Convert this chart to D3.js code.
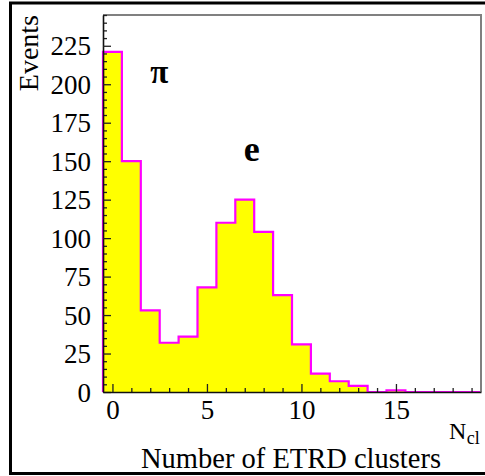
<!DOCTYPE html>
<html>
<head>
<meta charset="utf-8">
<script src="https://cdn.jsdelivr.net/npm/d3@7"></script>
<style>
html,body{margin:0;padding:0;background:#fff;}
svg{display:block;}
text{font-family:"Liberation Serif","Times New Roman",Times,serif;fill:#000;}
</style>
</head>
<body>
<svg id="c" width="485" height="476"></svg>
<script>
// Data
const binCenters = [0,1,2,3,4,5,6,7,8,9,10,11,12,13,14,15,16,17,18,19];
const counts = [221,150,53,32,36,68,110,125,104,63,31,12,7,4,0,1,0,0,0,0];
const xMajorTicks = [0,5,10,15];
const yMajorTicks = [0,25,50,75,100,125,150,175,200,225];
const xTitle = "Number of ETRD clusters";
const yTitle = "Events";
const peakLabels = [{text:"\u03c0", x:2.0, y:201, size:33}, {text:"e", x:6.95, y:150, size:36}];

const svg = d3.select("#c");
const L = 103, R = 481, T = 15, B = 392;
const serif = "'Liberation Serif','Times New Roman',Times,serif";

// outer frame
svg.append("rect").attr("x",10.5).attr("y",3).attr("width",480).attr("height",470.5)
  .attr("fill","#fff").attr("stroke","#000").attr("stroke-width",3);

const x = d3.scaleLinear().domain([-0.5,19.5]).range([L,R]);
const y = d3.scaleLinear().domain([0,245]).range([B,T]);

// histogram
const pts = [[-0.5,0]];
binCenters.forEach((c,i)=>{ pts.push([c-0.5,counts[i]]); });
pts.push([19.5,counts[counts.length-1]]);
const area = d3.area().x(d=>x(d[0])).y0(y(0)).y1(d=>y(d[1])).curve(d3.curveStepAfter);
const line = d3.line().x(d=>x(d[0])).y(d=>y(d[1])).curve(d3.curveStepAfter);
svg.append("path").datum(pts).attr("d",area).attr("fill","#ffff00");
svg.append("path").datum(pts).attr("d",line).attr("fill","none")
  .attr("stroke","#ff00ff").attr("stroke-width",2.2);

// frame top/right
svg.append("path").attr("d",`M${L},${T}H${R}V${B}`).attr("fill","none")
  .attr("stroke","#808080").attr("stroke-width",2);

// y axis minor
const yMinor = d3.range(0,246,5).filter(v=>v%25!==0);
svg.append("g").attr("transform",`translate(${L},0)`)
  .call(d3.axisLeft(y).tickValues(yMinor).tickSize(-4).tickFormat(""))
  .call(g=>g.select(".domain").remove())
  .call(g=>g.selectAll("line").attr("stroke","#222").attr("stroke-width",1.3));
// y axis major
svg.append("g").attr("transform",`translate(${L},0)`)
  .call(d3.axisLeft(y).tickValues(yMajorTicks).tickSize(-8).tickPadding(12).tickSizeOuter(0))
  .call(g=>g.attr("font-family",serif))
  .call(g=>g.select(".domain").attr("stroke","#111").attr("stroke-width",1.6))
  .call(g=>g.selectAll("line").attr("stroke","#222").attr("stroke-width",1.3))
  .call(g=>g.selectAll("text").attr("font-size",27).style("font-family",serif).attr("dy","0.34em"));

// x axis minor
const xMinor = d3.range(0,20,1).filter(v=>v%5!==0);
svg.append("g").attr("transform",`translate(0,${B})`)
  .call(d3.axisBottom(x).tickValues(xMinor).tickSize(-4).tickFormat(""))
  .call(g=>g.select(".domain").remove())
  .call(g=>g.selectAll("line").attr("stroke","#222").attr("stroke-width",1.3));
svg.append("g").attr("transform",`translate(0,${B})`)
  .call(d3.axisBottom(x).tickValues(xMajorTicks).tickSize(-8).tickPadding(8).tickSizeOuter(0))
  .call(g=>g.attr("font-family",serif))
  .call(g=>g.select(".domain").attr("stroke","#111").attr("stroke-width",1.6))
  .call(g=>g.selectAll("line").attr("stroke","#222").attr("stroke-width",1.3))
  .call(g=>g.selectAll("text").attr("font-size",27).style("font-family",serif).attr("dy","0.72em"));

// titles
svg.append("text").attr("transform",`translate(38,${T}) rotate(-90)`)
  .attr("text-anchor","end").attr("font-size",28).text(yTitle);
svg.append("text").attr("x",441).attr("y",467.5).attr("text-anchor","end")
  .attr("font-size",28.5).text(xTitle);
const nt = svg.append("text").attr("x",449).attr("y",439).attr("font-size",24);
nt.append("tspan").text("N");
nt.append("tspan").attr("font-size",18).attr("dy",5).attr("dx",0.5).text("cl");

// peak labels
svg.selectAll(".pk").data(peakLabels).join("text").attr("class","pk")
  .attr("x",d=>x(d.x)).attr("y",d=>y(d.y)).attr("font-size",d=>d.size)
  .attr("font-weight","bold").text(d=>d.text);
</script>
</body>
</html>
